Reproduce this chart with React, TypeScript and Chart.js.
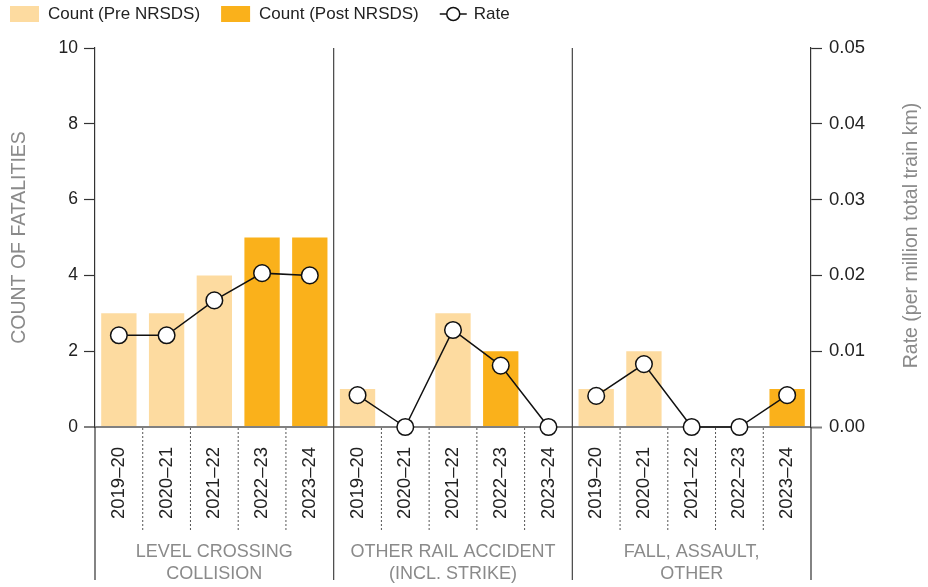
import React, { useEffect, useRef } from "react";
import { Chart, registerables } from "chart.js";
Chart.register(...registerables);

const FONT = "'Liberation Sans', Arial, sans-serif";

const categories = [
  "2019–20", "2020–21", "2021–22", "2022–23", "2023–24",
  "2019–20", "2020–21", "2021–22", "2022–23", "2023–24",
  "2019–20", "2020–21", "2021–22", "2022–23", "2023–24",
];
const groupLabels = [
  ["LEVEL CROSSING", "COLLISION"],
  ["OTHER RAIL ACCIDENT", "(INCL. STRIKE)"],
  ["FALL, ASSAULT,", "OTHER"],
];
const groupSize = 5;

const countPre = [3, 3, 4, null, null, 1, 0, 3, null, null, 1, 2, 0, 0, null];
const countPost = [null, null, null, 5, 5, null, null, null, 2, 0, null, null, null, null, 1];
const rate = [0.0121, 0.0121, 0.0167, 0.0203, 0.02, 0.0042, 0, 0.0128, 0.0081, 0, 0.0041, 0.0083, 0, 0, 0.0042];

const seriesNames = ["Count (Pre NRSDS)", "Count (Post NRSDS)", "Rate"];
const leftTitle = "COUNT OF FATALITIES";
const rightTitle = "Rate (per million total train km)";

const COLOR_PRE = "#FDDBA0";
const COLOR_POST = "#FAB11B";
const AXIS = "#333333";
const GRAYTEXT = "#8a8a8a";

const overlayPlugin = {
  id: "overlay",
  afterDraw(chart: any) {
    const ctx = chart.ctx;
    const ca = chart.chartArea;
    const xs = chart.scales.x;
    const n = categories.length;
    const pix = (i: number) => xs.getPixelForValue(i);
    const ext = ca.bottom + 153;
    ctx.save();
    // axis extensions
    ctx.strokeStyle = AXIS;
    ctx.lineWidth = 1.2;
    ctx.beginPath();
    ctx.moveTo(ca.left, ca.bottom);
    ctx.lineTo(ca.left, ext);
    ctx.moveTo(ca.right, ca.bottom);
    ctx.lineTo(ca.right, ext);
    ctx.stroke();
    // separators
    for (let i = 0; i < n - 1; i++) {
      const x = (pix(i) + pix(i + 1)) / 2;
      if ((i + 1) % groupSize === 0) {
        ctx.setLineDash([]);
        ctx.strokeStyle = "#444";
        ctx.lineWidth = 1.2;
        ctx.beginPath();
        ctx.moveTo(x, ca.top);
        ctx.lineTo(x, ext);
        ctx.stroke();
      } else {
        ctx.setLineDash([2, 2]);
        ctx.strokeStyle = "#555";
        ctx.lineWidth = 1;
        ctx.beginPath();
        ctx.moveTo(x, ca.bottom + 1);
        ctx.lineTo(x, ca.bottom + 105);
        ctx.stroke();
      }
    }
    ctx.setLineDash([]);
    // group labels
    ctx.fillStyle = GRAYTEXT;
    ctx.font = `18px ${FONT}`;
    ctx.textAlign = "center";
    ctx.textBaseline = "middle";
    groupLabels.forEach((lines, g) => {
      const cx = (pix(g * groupSize) + pix(g * groupSize + groupSize - 1)) / 2;
      lines.forEach((t, k) => {
        ctx.fillText(t, cx, ca.bottom + 125 + k * 22);
      });
    });
    // right title
    ctx.save();
    ctx.translate(chart.width - 11, (ca.top + ca.bottom) / 2 - 2);
    ctx.rotate(-Math.PI / 2);
    ctx.textAlign = "center";
    ctx.textBaseline = "alphabetic";
    ctx.font = `19.5px ${FONT}`;
    ctx.fillStyle = GRAYTEXT;
    ctx.fillText(rightTitle, 0, 0);
    ctx.restore();
    // legend
    ctx.font = `17px ${FONT}`;
    ctx.textAlign = "left";
    ctx.textBaseline = "middle";
    let x = 10;
    const cy = 14;
    [COLOR_PRE, COLOR_POST].forEach((c, k) => {
      ctx.fillStyle = c;
      ctx.fillRect(x, cy - 8, 29, 16);
      ctx.fillStyle = "#222";
      ctx.fillText(seriesNames[k], x + 38, cy);
      x += 38 + ctx.measureText(seriesNames[k]).width + 21;
    });
    ctx.strokeStyle = "#111";
    ctx.lineWidth = 1.5;
    ctx.beginPath();
    ctx.moveTo(x, cy);
    ctx.lineTo(x + 27, cy);
    ctx.stroke();
    ctx.beginPath();
    ctx.arc(x + 13.5, cy, 6.5, 0, Math.PI * 2);
    ctx.fillStyle = "#fff";
    ctx.fill();
    ctx.stroke();
    ctx.fillStyle = "#222";
    ctx.fillText(seriesNames[2], x + 34, cy);
    ctx.restore();
  },
};

export default function App() {
  const ref = useRef<HTMLCanvasElement>(null);
  useEffect(() => {
    if (!ref.current) return;
    const chart = new Chart(ref.current, {
      type: "bar",
      data: {
        labels: categories,
        datasets: [
          {
            type: "line",
            label: seriesNames[2],
            data: rate,
            yAxisID: "y1",
            order: 0,
            borderColor: "#111",
            borderWidth: 1.5,
            pointRadius: 8.3,
            pointBackgroundColor: "#fff",
            pointBorderColor: "#111",
            pointBorderWidth: 1.5,
            tension: 0,
            clip: false,
            segment: {
              borderColor: (c: any) =>
                c.p0DataIndex % groupSize === groupSize - 1 ? "rgba(0,0,0,0)" : "#111",
            },
          } as any,
          {
            type: "bar",
            label: seriesNames[0],
            data: countPre,
            yAxisID: "y",
            order: 1,
            backgroundColor: COLOR_PRE,
            grouped: false,
            barPercentage: 0.74,
            categoryPercentage: 1,
          } as any,
          {
            type: "bar",
            label: seriesNames[1],
            data: countPost,
            yAxisID: "y",
            order: 1,
            backgroundColor: COLOR_POST,
            grouped: false,
            barPercentage: 0.74,
            categoryPercentage: 1,
          } as any,
        ],
      },
      options: {
        animation: false,
        responsive: true,
        maintainAspectRatio: false,
        layout: { padding: { top: 48, left: 0, right: 0, bottom: 0 } },
        plugins: { legend: { display: false }, tooltip: { enabled: false } },
        scales: {
          x: {
            grid: { display: false, drawTicks: false },
            border: { display: false },
            ticks: {
              autoSkip: false,
              minRotation: 90,
              maxRotation: 90,
              padding: 20,
              color: "#222",
              font: { family: FONT, size: 18.5 },
            },
            afterFit: (s: any) => {
              s.height = 160;
            },
          },
          y: {
            position: "left",
            min: 0,
            max: 10,
            ticks: {
              stepSize: 2,
              padding: 6,
              color: "#222",
              font: { family: FONT, size: 17.5 },
            },
            grid: {
              color: (c: any) => (c.tick && c.tick.value === 0 ? "#808080" : "rgba(0,0,0,0)"),
              lineWidth: (c: any) => (c.tick && c.tick.value === 0 ? 2 : 1),
              tickColor: (c: any) => (c.tick && c.tick.value === 0 ? "#808080" : AXIS),
              tickLength: 11,
              tickWidth: (c: any) => (c.tick && c.tick.value === 0 ? 2 : 1.2),
            },
            border: { display: true, color: AXIS, width: 1.2 },
            title: {
              display: true,
              text: leftTitle,
              color: GRAYTEXT,
              font: { family: FONT, size: 19.5 },
              padding: { top: 8, bottom: 0 },
            },
            afterFit: (s: any) => {
              s.width = 95;
            },
          },
          y1: {
            position: "right",
            min: 0,
            max: 0.05,
            ticks: {
              stepSize: 0.01,
              padding: 7,
              color: "#222",
              font: { family: FONT, size: 18.5 },
              callback: (v: any) => Number(v).toFixed(2),
            },
            grid: {
              drawOnChartArea: false,
              tickLength: 11,
              tickColor: (c: any) => (c.tick && c.tick.value === 0 ? "#808080" : AXIS),
              tickWidth: (c: any) => (c.tick && c.tick.value === 0 ? 2 : 1.2),
            },
            border: { display: true, color: AXIS, width: 1.2 },
            afterFit: (s: any) => {
              s.width = 117;
            },
          },
        },
      } as any,
      plugins: [overlayPlugin],
    });
    return () => chart.destroy();
  }, []);
  return (
    <div style={{ position: "fixed", left: 0, top: 0, width: 928, height: 587 }}>
      <canvas ref={ref} />
    </div>
  );
}
